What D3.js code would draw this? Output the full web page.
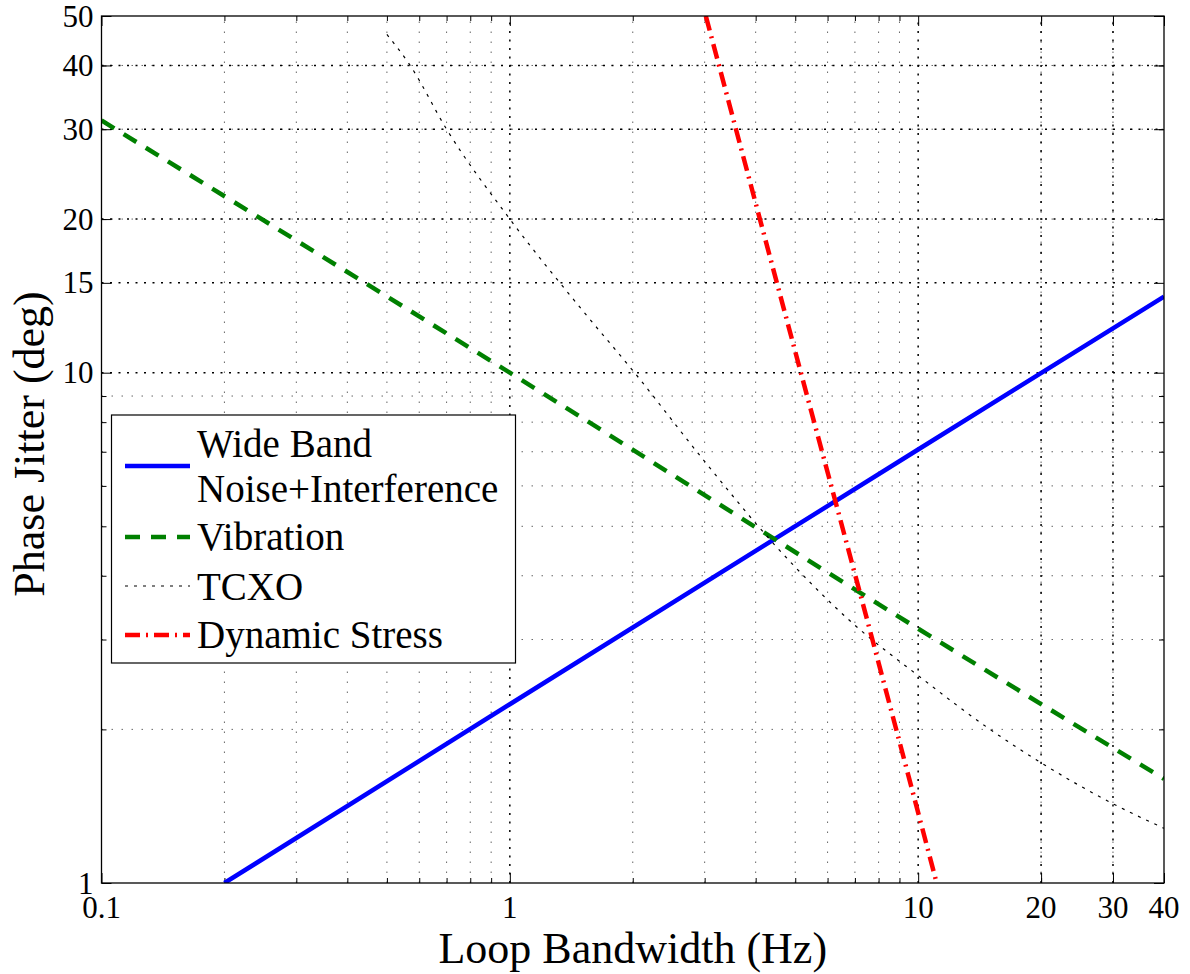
<!DOCTYPE html>
<html>
<head>
<meta charset="utf-8">
<script src="https://cdn.jsdelivr.net/npm/d3@7"></script>
<style>
  body { margin: 0; background: #fff; }
</style>
</head>
<body>
<div id="chart"></div>
<script>
const width = 1190;
const height = 974;
const margin = { left: 101.5, right: 26, top: 16, bottom: 91 };
const serif = "'Liberation Serif', 'Times New Roman', Times, 'DejaVu Serif', serif";

// values: [bandwidth Hz, jitter deg]
const wideBand = [[0.2, 1.0], [1, 2.24], [10, 7.07], [40, 14.1]];
const vibration = [[0.1, 31.2], [1, 10], [10, 3.15], [40, 1.6]];
const tcxo = [[0.5, 46], [0.57, 40], [0.7, 30], [1, 20], [1.5, 13.3], [2, 10.1], [3, 6.7],
  [4.45, 4.6], [7, 3.2], [10, 2.55], [15, 2.0], [20, 1.72], [30, 1.43], [40, 1.28]];
const dynamicStress = [[3.02, 50], [5, 11], [8, 2.7], [11.1, 1.0]];

const xTicks = [0.1, 1, 10, 20, 30, 40];
const yTicks = [1, 10, 15, 20, 30, 40, 50];
const xMinor = [0.2, 0.3, 0.4, 0.5, 0.6, 0.7, 0.8, 0.9, 2, 3, 4, 5, 6, 7, 8, 9, 20, 30];
const yMinor = [2, 3, 4, 5, 6, 7, 8, 9, 20, 30, 40];

const series = [
  { name: ["Wide Band", "Noise+Interference"], data: wideBand, color: "#0000ff", width: 4.5, dash: null },
  { name: ["Vibration"], data: vibration, color: "#008000", width: 4.5, dash: "15,11" },
  { name: ["TCXO"], data: tcxo, color: "#000", width: 1.2, dash: "3,6" },
  { name: ["Dynamic Stress"], data: dynamicStress, color: "#ff0000", width: 4.5, dash: "15,6,2,6" }
];

const x = d3.scaleLog().domain([0.1, 40]).range([margin.left, width - margin.right]);
const y = d3.scaleLog().domain([1, 50]).range([height - margin.bottom, margin.top]);

const svg = d3.select("#chart").append("svg")
  .attr("width", width)
  .attr("height", height)
  .attr("font-family", serif);

svg.append("defs").append("clipPath").attr("id", "plot")
  .append("rect")
  .attr("x", x.range()[0]).attr("y", y.range()[1])
  .attr("width", x.range()[1] - x.range()[0])
  .attr("height", y.range()[0] - y.range()[1]);

const x0 = x.range()[0], x1 = x.range()[1], y0 = y.range()[0], y1 = y.range()[1];

// minor grid
const grid = svg.append("g");
grid.selectAll(".vminor").data(xMinor).join("line")
  .attr("x1", d => x(d)).attr("x2", d => x(d)).attr("y1", y0).attr("y2", y1)
  .attr("stroke", "#666").attr("stroke-width", 1).attr("stroke-dasharray", "1.5,8.5");
grid.selectAll(".hminor").data(yMinor).join("line")
  .attr("y1", d => y(d)).attr("y2", d => y(d)).attr("x1", x0).attr("x2", x1)
  .attr("stroke", "#666").attr("stroke-width", 1).attr("stroke-dasharray", "1.5,8.5");
// major grid
grid.selectAll(".vmajor").data(xTicks.slice(1, -1)).join("line")
  .attr("x1", d => x(d)).attr("x2", d => x(d)).attr("y1", y0).attr("y2", y1)
  .attr("stroke", "#000").attr("stroke-width", 1.5).attr("stroke-dasharray", "2,6.5");
grid.selectAll(".hmajor").data(yTicks.slice(1, -1)).join("line")
  .attr("y1", d => y(d)).attr("y2", d => y(d)).attr("x1", x0).attr("x2", x1)
  .attr("stroke", "#000").attr("stroke-width", 1.5).attr("stroke-dasharray", "2,6.5");

// axes: inward ticks on all four sides
function axes(gen, vals, transform, size) {
  const g = svg.append("g").attr("transform", transform);
  g.call(gen.tickValues(vals).tickSize(size).tickFormat(""));
  g.select(".domain").remove();
  g.selectAll("line").attr("stroke", "#000");
  return g;
}
axes(d3.axisTop(x), xMinor, `translate(0,${y0})`, 5);
axes(d3.axisBottom(x), xMinor, `translate(0,${y1})`, 5);
axes(d3.axisRight(y), yMinor, `translate(${x0},0)`, 5);
axes(d3.axisLeft(y), yMinor, `translate(${x1},0)`, 5);
axes(d3.axisTop(x), xTicks, `translate(0,${y0})`, 10);
axes(d3.axisBottom(x), xTicks, `translate(0,${y1})`, 10);
axes(d3.axisRight(y), yTicks, `translate(${x0},0)`, 10);
axes(d3.axisLeft(y), yTicks, `translate(${x1},0)`, 10);

// tick labels
svg.append("g").selectAll("text").data(xTicks).join("text")
  .attr("x", d => x(d)).attr("y", 918)
  .attr("text-anchor", "middle").attr("font-size", 31)
  .text(d => d3.format("~g")(d));
svg.append("g").selectAll("text").data(yTicks).join("text")
  .attr("x", x0 - 8).attr("y", d => y(d)).attr("dy", "0.34em")
  .attr("text-anchor", "end").attr("font-size", 31)
  .text(d => d);

// curves
const line = d3.line().x(d => x(d[0])).y(d => y(d[1])).curve(d3.curveMonotoneX);
svg.append("g").attr("clip-path", "url(#plot)")
  .selectAll("path").data(series).join("path")
  .attr("d", d => line(d.data))
  .attr("fill", "none")
  .attr("stroke", d => d.color)
  .attr("stroke-width", d => d.width)
  .attr("stroke-dasharray", d => d.dash);

// frame
svg.append("rect")
  .attr("x", x0).attr("y", y1).attr("width", x1 - x0).attr("height", y0 - y1)
  .attr("fill", "none").attr("stroke", "#000").attr("stroke-width", 1.3);

// legend
const legend = svg.append("g");
legend.append("rect")
  .attr("x", 111.5).attr("y", 415).attr("width", 404).attr("height", 248)
  .attr("fill", "#fff").attr("stroke", "#000").attr("stroke-width", 1.2);
const sampleY = [466, 537, 586, 635];
const labelY = [[457, 502], [550], [600], [648]];
series.forEach((s, i) => {
  legend.append("line")
    .attr("x1", 125).attr("x2", 190).attr("y1", sampleY[i]).attr("y2", sampleY[i])
    .attr("stroke", s.color).attr("stroke-width", s.width)
    .attr("stroke-dasharray", s.dash);
  s.name.forEach((t, j) => {
    legend.append("text")
      .attr("x", 197).attr("y", labelY[i][j])
      .attr("font-size", 39)
      .text(t);
  });
});

// axis titles
svg.append("text")
  .attr("x", (x0 + x1) / 2).attr("y", 963)
  .attr("text-anchor", "middle").attr("font-size", 44)
  .text("Loop Bandwidth (Hz)");
svg.append("text")
  .attr("transform", `translate(44,444) rotate(-90)`)
  .attr("text-anchor", "middle").attr("font-size", 44)
  .text("Phase Jitter (deg)");
</script>
</body>
</html>
